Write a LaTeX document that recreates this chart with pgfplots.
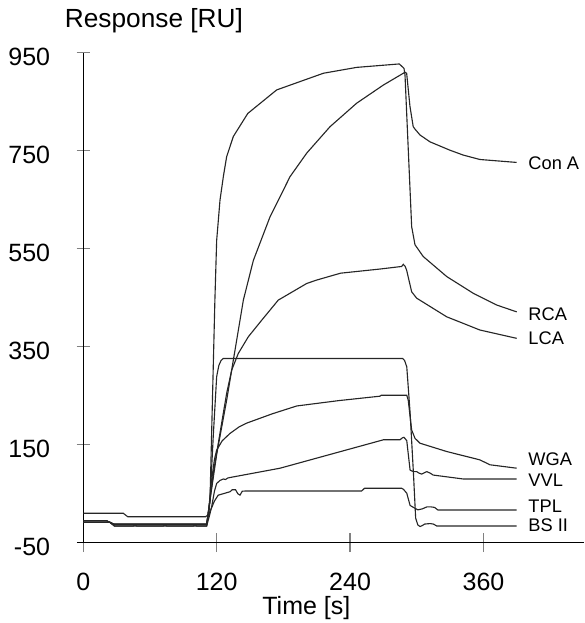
\documentclass[border=0pt]{standalone}
\usepackage{fontspec}
\setmainfont{Liberation Sans}
\usepackage{pgfplots}
\pgfplotsset{compat=1.18}
\pgfplotsset{sensor/.style={line width=0.45pt, black!85, mark=none}}
\begin{document}
\begin{tikzpicture}
\begin{axis}[
  scale only axis, width=200.1pt, height=196pt,
  xmin=0, xmax=450, ymin=-50, ymax=950,
  axis lines*=left,
  axis line style={line width=0.5pt},
  xtick={0,120,240,360}, ytick={-50,150,350,550,750,950},
  tick align=center,
  xtick style={line width=0.5pt, /pgfplots/major tick length=7.6pt},
  ytick style={line width=0.5pt, /pgfplots/major tick length=5.4pt},
  /pgf/number format/assume math mode=true,
  tick label style={font=\fontsize{10}{12}\selectfont},
  yticklabel style={xshift=-7.6pt, yshift=-1.6pt},
  xticklabel style={yshift=-6.4pt},
  clip=false,
]
% Con A
\addplot[sensor] coordinates {(0,-5) (21,-5) (27,-12.4) (111,-12.4) (114,37) (120,130) (129,241) (144,445) (153,526) (168,615) (186,697) (201,745) (222,799) (246,847) (270,884) (289.4,910) (290.9,908) (293.9,840) (296.8,799) (298.4,794) (302.9,782) (311.9,768) (329.8,751) (341.8,741) (356.8,732) (389.9,726)};
% RCA
\addplot[sensor] coordinates {(0,-8.4) (24,-8.4) (28,-12.4) (111,-12.4) (113,10) (114,37) (118.4,445) (120,567) (123,649) (126,697) (129,738) (135,779) (148,826) (174,874) (216,908) (246,920) (284.3,927) (288.5,918) (289.4,905) (295.4,595) (298.4,558) (305.8,534) (327,493) (350.8,459) (371.9,435) (389.9,421)};
% LCA
\addplot[sensor] coordinates {(0,-8.4) (24,-8.4) (28,-12.4) (111,-12.4) (114,37) (117,92) (123,174) (129,255) (133.5,302) (139.4,336) (148.4,370) (160.5,404) (175.4,445) (201,479) (210,486) (231.5,500) (267.5,508.6) (286.4,513.7) (287.9,518) (289.5,514) (290.9,506) (295.4,462) (299.9,449) (326.9,411) (356.8,384) (389.9,367)};
% WGA
\addplot[sensor] coordinates {(0,-5) (21,-5) (27,-12.4) (111,-12.4) (113,20) (115,70) (118,120) (120,139) (125,158) (132,173) (140,186) (147,194) (170,213) (192,229) (230,240) (267,249) (268,251) (291,251) (292.3,241) (295.4,180) (298.4,163) (302.9,153) (327,136) (356.8,119) (365.8,109) (389.9,102)};
% VVL
\addplot[sensor] coordinates {(0,-8.4) (24,-8.4) (28,-16) (45,-16) (46.6,-13.5) (48,-16) (72,-16) (73.5,-13.5) (75,-16) (99,-16) (100.5,-13.5) (102,-16) (111,-16) (113.5,5) (115.5,23.5) (118,55) (120,71) (123,77) (126,80) (128,79) (130,82) (132,83) (177,102) (270,160) (285,160) (287,164) (288.5,165) (290,161) (291,158) (294,98) (297,95) (300,95) (302,92) (304.4,90) (307,93) (309,95) (312,92) (314.8,88) (341.8,80) (389.9,80)};
% TPL
\addplot[sensor] coordinates {(0,10) (36,10) (40,3) (110,3) (113,8) (118,35) (121.4,47) (126,50) (132,54) (134,58) (137,58) (139,50) (141,47) (143,55) (146,55.5) (250.4,55.5) (253,61) (286.4,61) (288,59) (291,51) (294,26) (297,22) (301,17) (305,19) (309,23) (313,23) (316,22) (319,16.7) (389.9,16.7)};
% BS II
\addplot[sensor] coordinates {(0,-8.4) (24,-8.4) (28,-16) (111,-16) (114,37) (117,170) (120,289) (122,312) (124,322) (126,326) (287.3,326) (289,322) (291,309) (294,215) (297,92) (299,0) (301,-14) (303,-17) (305,-15) (307,-12) (312,-11) (315,-12) (318,-16) (389.9,-16)};

\draw[line width=0.5pt] (axis cs:-5.4,-50) -- (axis cs:0,-50);
\path (axis cs:-74.9,1057.5) rectangle (axis cs:450.4,-213.9);

\begin{scope}[every node/.style={anchor=west, inner sep=0pt, font=\fontsize{7.3}{9}\selectfont}]
\node at (axis cs:400,724) {Con A};
\node at (axis cs:400,417) {RCA};
\node at (axis cs:400,367) {LCA};
\node at (axis cs:400,120) {WGA};
\node at (axis cs:400,78) {VVL};
\node at (axis cs:400,23.5) {TPL};
\node at (axis cs:400,-14) {BS II};
\end{scope}
\node[anchor=base, inner sep=0pt, font=\fontsize{10.5}{12}\selectfont, yshift=9.9pt] at (axis description cs:0.1413,1) {Response [RU]};
\node[anchor=base, inner sep=0pt, font=\fontsize{10}{12}\selectfont, yshift=-28.9pt] at (axis description cs:0.446,0) {Time [s]};
\end{axis}
\end{tikzpicture}
\end{document}
